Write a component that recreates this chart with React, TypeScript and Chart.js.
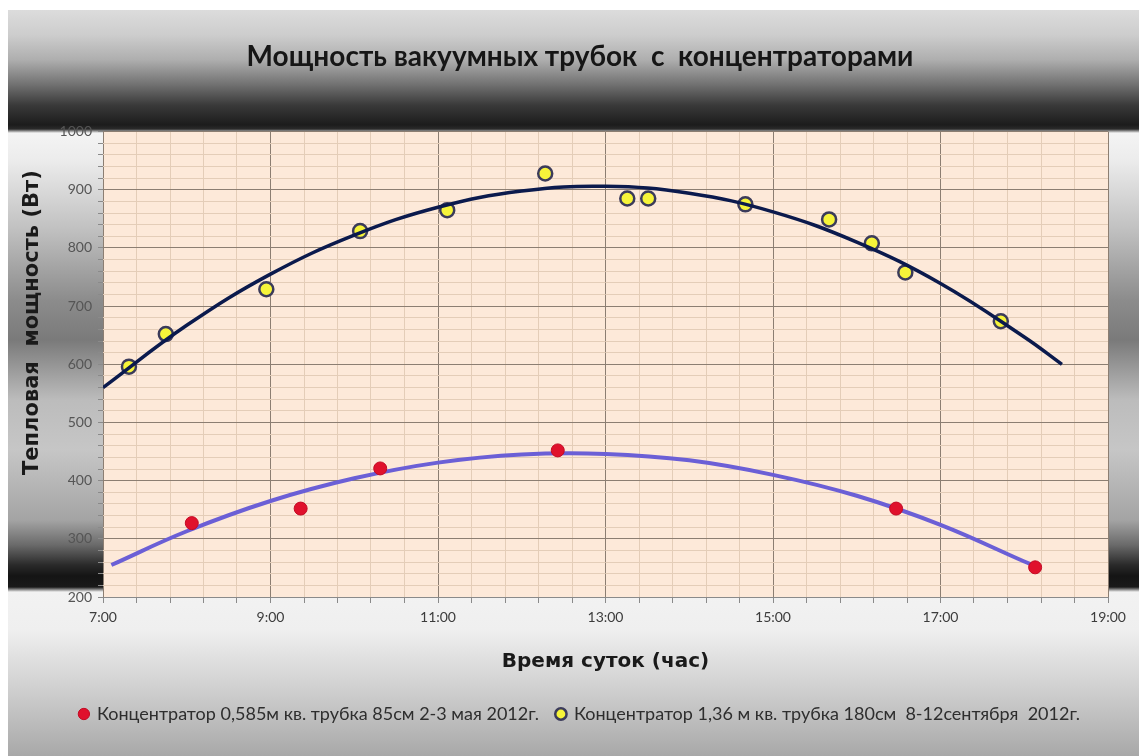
import { useEffect, useRef } from 'react';
import { Chart, registerables } from 'chart.js';

Chart.register(...registerables);

// Time of day in decimal hours, power in watts
const mayHours = [8.06, 9.36, 10.31, 12.43, 16.47, 18.13];
const mayPower = [327, 352, 421, 452, 352, 251];

const sepHours = [7.31, 7.75, 8.95, 10.07, 11.11, 12.28, 13.26, 13.51, 14.67, 15.67, 16.18, 16.58, 17.72];
const sepPower = [596, 652, 729, 829, 865, 928, 885, 885, 875, 849, 808, 758, 674];

// Second-order trend curves for each series
const mayTrendHours = [7.1, 8, 9, 10, 11, 12, 13, 14, 15, 16, 17, 18, 18.13];
const mayTrendPower = [255, 313, 365, 404, 431, 445, 446, 435, 410, 374, 324, 261, 253];

const sepTrendHours = [7, 8, 9, 10, 11, 12, 13, 14, 15, 16, 17, 18, 18.45];
const sepTrendPower = [560, 667, 755, 822, 870, 898, 906, 894, 862, 810, 739, 647, 600];

const seriesNames = [
  'Концентратор 0,585м кв. трубка 85см 2-3 мая 2012г.',
  'Концентратор 1,36 м кв. трубка 180см  8-12сентября  2012г.',
];
const chartTitle = 'Мощность вакуумных трубок  с  концентраторами';
const xTitle = 'Время суток (час)';
const yTitle = 'Тепловая  мощность (Вт)';

const xMin = 7;
const xMax = 19;
const xMajor = 2;
const xMinor = 0.4;
const yMin = 200;
const yMax = 1000;
const yMajor = 100;
const yMinor = 20;

const toPoints = (xs: number[], ys: number[]) => xs.map((x, i) => ({ x, y: ys[i] }));

const isMultiple = (v: number, base: number, step: number) => {
  const k = (v - base) / step;
  return Math.abs(k - Math.round(k)) < 1e-6;
};

const MAJOR_GRID = '#8c7e72';
const MINOR_GRID = '#e4cdb8';
const TICK_MARK = '#8a8a8a';
const LABEL_FONT = 'Lato, "Open Sans", sans-serif';
const AXIS_TITLE_FONT = '"DejaVu Sans", "Open Sans", sans-serif';

// Metallic banded backdrop plus the peach plot panel
const backdrop = {
  id: 'backdrop',
  beforeDraw(chart: any) {
    const { ctx, width, height, chartArea } = chart;
    const g = ctx.createLinearGradient(0, 0, 0, height);
    const stops: [number, string][] = [
      [0, '#dcdcdc'],
      [25, '#cdcdcd'],
      [50, '#aeaeae'],
      [75, '#707070'],
      [95, '#3a3a3a'],
      [115, '#1c1c1c'],
      [119, '#2a2a2a'],
      [123, '#f4f4f4'],
      [150, '#ececec'],
      [220, '#c0c0c0'],
      [290, '#8c8c8c'],
      [330, '#7a7a7a'],
      [390, '#bcbcbc'],
      [440, '#c6c6c6'],
      [510, '#a4a4a4'],
      [535, '#6a6a6a'],
      [555, '#2a2a2a'],
      [566, '#141414'],
      [577, '#1a1a1a'],
      [582, '#f2f2f2'],
      [620, '#efefef'],
      [680, '#cfcfcf'],
      [746, '#a8a8a8'],
    ];
    stops.forEach(([y, c]) => g.addColorStop(Math.min(1, y / height), c));
    ctx.save();
    ctx.fillStyle = g;
    ctx.fillRect(0, 0, width, height);
    ctx.fillStyle = '#fde9d9';
    ctx.fillRect(chartArea.left, chartArea.top, chartArea.right - chartArea.left, chartArea.bottom - chartArea.top);
    ctx.restore();
  },
};

// Vertical caption for the power axis
const powerCaption = {
  id: 'powerCaption',
  afterDraw(chart: any) {
    const { ctx, chartArea } = chart;
    ctx.save();
    ctx.translate(25, chartArea.top + 191);
    ctx.rotate(-Math.PI / 2);
    ctx.font = `bold 21px ${AXIS_TITLE_FONT}`;
    ctx.fillStyle = '#1a1a1a';
    ctx.textAlign = 'center';
    ctx.textBaseline = 'middle';
    ctx.fillText(yTitle, 0, 0);
    ctx.restore();
  },
};

export default function App() {
  const canvasRef = useRef<HTMLCanvasElement>(null);

  useEffect(() => {
    const canvas = canvasRef.current;
    if (!canvas) return;

    const chart = new Chart(canvas, {
      type: 'scatter',
      data: {
        datasets: [
          {
            label: 'trend-sep',
            data: toPoints(sepTrendHours, sepTrendPower),
            showLine: true,
            borderColor: '#0b1a4d',
            borderWidth: 3.5,
            pointRadius: 0,
            tension: 0.4,
            order: 0,
          },
          {
            label: seriesNames[0],
            data: toPoints(mayHours, mayPower),
            backgroundColor: '#e0112c',
            borderColor: '#c40a24',
            borderWidth: 1,
            pointRadius: 6.5,
            pointStyle: 'circle',
            order: 1,
          },
          {
            label: seriesNames[1],
            data: toPoints(sepHours, sepPower),
            backgroundColor: '#f6f43a',
            borderColor: '#3b3b5a',
            borderWidth: 2.5,
            pointRadius: 7,
            pointStyle: 'circle',
            order: 2,
          },
          {
            label: 'trend-may',
            data: toPoints(mayTrendHours, mayTrendPower),
            showLine: true,
            borderColor: '#6b5fd6',
            borderWidth: 4,
            pointRadius: 0,
            tension: 0.4,
            order: 3,
          },
        ],
      },
      options: {
        responsive: false,
        animation: false,
        events: [],
        layout: { padding: { left: 44, right: 31, top: 0, bottom: 23 } },
        plugins: {
          tooltip: { enabled: false },
          title: {
            display: true,
            text: chartTitle,
            color: '#161616',
            font: { family: LABEL_FONT, size: 28, weight: 'bold' },
            padding: { top: 30, bottom: 58 },
          },
          legend: {
            display: true,
            position: 'bottom',
            labels: {
              usePointStyle: true,
              pointStyle: 'circle',
              boxWidth: 8,
              boxHeight: 8,
              padding: 18,
              color: '#2e2e2e',
              font: { family: LABEL_FONT, size: 18 },
              filter: (item: any) => !String(item.text).startsWith('trend'),
            },
          },
        },
        scales: {
          x: {
            type: 'linear',
            min: xMin,
            max: xMax,
            afterFit: (scale: any) => {
              scale.height = 90;
            },
            border: { display: true, color: TICK_MARK, width: 1 },
            grid: {
              color: (c: any) => (isMultiple(c.tick.value, xMin, xMajor) ? MAJOR_GRID : MINOR_GRID),
              tickColor: TICK_MARK,
              tickLength: 6,
            },
            ticks: {
              stepSize: xMinor,
              autoSkip: false,
              maxRotation: 0,
              padding: 6,
              color: '#3c3c3c',
              font: { family: LABEL_FONT, size: 14 },
              callback: (v: any) => (isMultiple(Number(v), xMin, xMajor) ? `${Math.round(Number(v))}:00` : ''),
            },
            title: {
              display: true,
              text: xTitle,
              color: '#1a1a1a',
              font: { family: AXIS_TITLE_FONT, size: 20, weight: 'bold' },
              padding: { top: 0, bottom: 13 },
            },
          },
          y: {
            type: 'linear',
            min: yMin,
            max: yMax,
            afterFit: (scale: any) => {
              scale.width = 51;
            },
            border: { display: false },
            grid: {
              color: (c: any) => (isMultiple(c.tick.value, yMin, yMajor) ? MAJOR_GRID : MINOR_GRID),
              tickColor: TICK_MARK,
              tickLength: 5,
            },
            ticks: {
              stepSize: yMinor,
              autoSkip: false,
              padding: 6,
              color: '#555555',
              font: { family: LABEL_FONT, size: 14 },
              callback: (v: any) => (isMultiple(Number(v), yMin, yMajor) ? String(v) : ''),
            },
          },
        },
      },
      plugins: [backdrop, powerCaption],
    } as any);

    return () => chart.destroy();
  }, []);

  return (
    <div style={{ position: 'fixed', left: 8, top: 10, width: 1131, height: 746 }}>
      <canvas ref={canvasRef} width={1131} height={746} style={{ display: 'block', width: 1131, height: 746 }} />
    </div>
  );
}
